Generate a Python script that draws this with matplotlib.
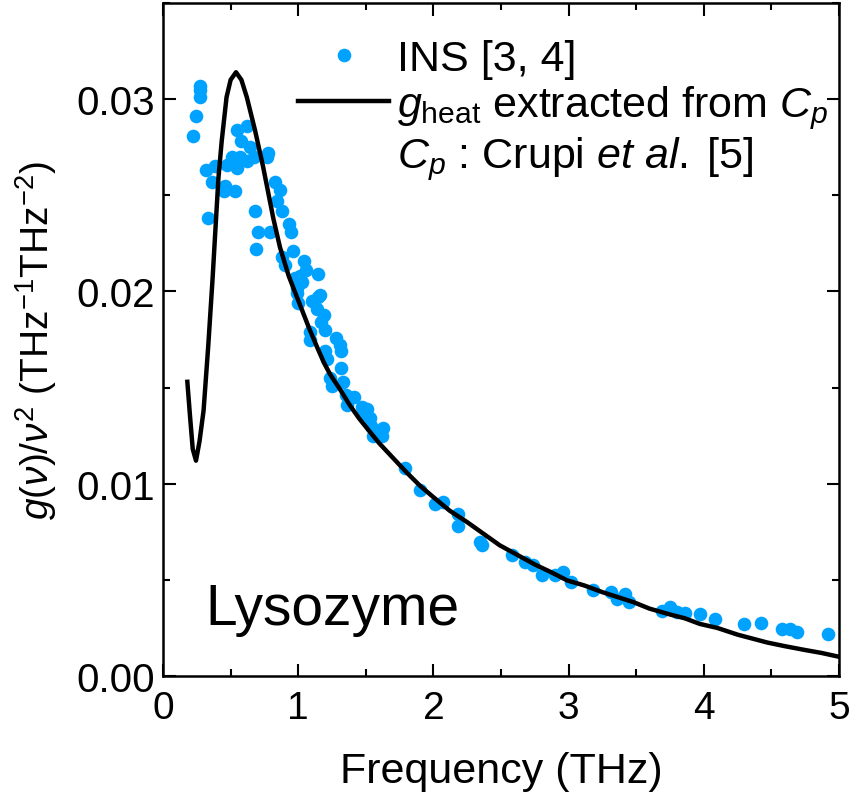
import matplotlib
matplotlib.use("Agg")
import matplotlib.pyplot as plt
from matplotlib.lines import Line2D
from matplotlib.ticker import MultipleLocator

plt.rcParams['font.family'] = ['Liberation Sans', 'DejaVu Sans']
plt.rcParams['mathtext.fontset'] = 'custom'
plt.rcParams['mathtext.rm'] = 'Liberation Sans'
plt.rcParams['mathtext.it'] = 'Liberation Sans:italic'
plt.rcParams['mathtext.bf'] = 'Liberation Sans:bold'

# INS data points (frequency THz, g/nu^2)
ins_freq = [0.274, 0.270, 0.274, 0.244, 0.224, 0.55, 0.62, 0.58, 0.643, 0.78,
            0.32, 0.385, 0.47, 0.51, 0.57, 0.62, 0.67, 0.77, 0.545, 0.36,
            0.46, 0.53, 0.45, 0.83, 0.865, 0.84, 0.88, 0.68, 0.335, 0.705,
            0.79, 0.93, 0.95, 0.69, 0.965, 0.88, 0.90, 1.04, 1.06, 1.01,
            1.15, 0.99, 1.16, 0.98, 1.03, 0.99, 1.00, 1.10, 1.15, 1.14,
            1.19, 1.17, 1.20, 1.09, 1.09, 1.28, 1.31, 1.32, 1.20, 1.21,
            1.32, 1.235, 1.25, 1.33, 1.35, 1.41, 1.36, 1.47, 1.51, 1.48,
            1.53, 1.54, 1.63, 1.555, 1.62, 1.79, 1.90, 2.01, 2.07, 2.18,
            2.18, 2.345, 2.357, 2.58, 2.68, 2.74, 2.80, 2.90, 2.96, 3.02,
            3.18, 3.31, 3.36, 3.42, 3.45, 3.69, 3.75, 3.80, 3.86, 3.97,
            4.08, 4.30, 4.42, 4.58, 4.64, 4.69, 4.92]
ins_g = [0.0307, 0.0305, 0.0301, 0.0291, 0.0281, 0.0284, 0.0286, 0.0278, 0.0275, 0.0272,
         0.0263, 0.0265, 0.0266, 0.0270, 0.0270, 0.0268, 0.0270, 0.0270, 0.0264, 0.0257,
         0.0255, 0.0252, 0.0252, 0.0257, 0.0253, 0.0247, 0.0242, 0.0242, 0.0238, 0.0231,
         0.0231, 0.0235, 0.0231, 0.0222, 0.0221, 0.0218, 0.0214, 0.0216, 0.0211, 0.0208,
         0.0209, 0.0202, 0.0198, 0.0207, 0.0205, 0.0199, 0.0194, 0.0195, 0.0197, 0.0191,
         0.0188, 0.0184, 0.0180, 0.0179, 0.0175, 0.0176, 0.0172, 0.0169, 0.0169, 0.0165,
         0.0160, 0.0155, 0.0151, 0.0153, 0.0146, 0.0145, 0.0141, 0.0140, 0.0139, 0.0136,
         0.0134, 0.0130, 0.0129, 0.0125, 0.0125, 0.0108, 0.00967, 0.00892, 0.00905, 0.0084,
         0.0078, 0.00698, 0.0068, 0.00628, 0.00593, 0.00575, 0.00523, 0.00523, 0.0054, 0.00489,
         0.00445, 0.00436, 0.00402, 0.00428, 0.00384, 0.0034, 0.00358, 0.00335, 0.00329, 0.00323,
         0.00294, 0.00271, 0.00274, 0.00247, 0.00247, 0.0023, 0.00219]

# g_heat curve extracted from Cp
heat_freq = [0.18, 0.20, 0.22, 0.244, 0.27, 0.30, 0.335, 0.367, 0.39, 0.41,
             0.434, 0.47, 0.50, 0.54, 0.58, 0.62, 0.68, 0.74, 0.816, 0.865,
             0.93, 0.98, 1.03, 1.08, 1.14, 1.19, 1.235, 1.31, 1.38, 1.45,
             1.53, 1.60, 1.68, 1.80, 1.90, 2.00, 2.12, 2.25, 2.37, 2.49,
             2.62, 2.75, 2.87, 2.99, 3.12, 3.25, 3.48, 3.60, 3.75, 3.86,
             3.97, 4.10, 4.25, 4.47, 4.60, 4.75, 4.87, 5.00]
heat_g = [0.0153, 0.0135, 0.0118, 0.0112, 0.0122, 0.0138, 0.0172, 0.0207, 0.0235, 0.0259,
          0.0278, 0.0301, 0.0310, 0.0314, 0.0310, 0.0301, 0.0284, 0.0265, 0.0238, 0.0223,
          0.0208, 0.0199, 0.0190, 0.0181, 0.0171, 0.0163, 0.0157, 0.0149, 0.0141, 0.0134,
          0.0127, 0.0121, 0.0115, 0.0106, 0.0099, 0.0093, 0.0086, 0.0080, 0.0074, 0.0068,
          0.0063, 0.0058, 0.0054, 0.00497, 0.0047, 0.00436, 0.00384, 0.0035, 0.0032, 0.0030,
          0.00271, 0.0025, 0.00215, 0.00174, 0.00155, 0.00135, 0.0012, 0.0010]

xticks = [0, 1, 2, 3, 4, 5]
yticks = [0.00, 0.01, 0.02, 0.03]
ytick_labels = ['0.00', '0.01', '0.02', '0.03']

fig = plt.figure(figsize=(8.51, 8.04), dpi=100)
ax = fig.add_axes([163/851, 1 - 677/804, (839 - 163)/851, (677 - 4)/804])

ax.plot(ins_freq, ins_g, 'o', color='#00A2FF', ms=9.8, mec='none',
        label='INS [3, 4]', zorder=2)
ax.plot(heat_freq, heat_g, '-', color='black', lw=3.2, solid_joinstyle='round',
        label=r'$g_{\mathrm{heat}}$ extracted from $C_p$', zorder=3)

ax.set_xlim(0, 5)
ax.set_ylim(0, 0.035)
ax.set_xticks(xticks)
ax.set_yticks(yticks)
ax.set_yticklabels(ytick_labels)
ax.xaxis.set_minor_locator(MultipleLocator(0.5))
ax.yaxis.set_minor_locator(MultipleLocator(0.005))
ax.tick_params(which='both', direction='in', top=True, right=True, width=1.5)
ax.tick_params(which='major', length=9)
ax.tick_params(which='minor', length=5)
ax.tick_params(axis='y', labelsize=29, pad=6)
ax.tick_params(axis='x', labelsize=28, pad=10)
for s in ax.spines.values():
    s.set_linewidth(1.8)

ax.set_xlabel('Frequency (THz)', fontsize=31, labelpad=18)
ax.set_ylabel(r'$g(\nu)/\nu^2$ (THz$^{-1}$THz$^{-2}$)', fontsize=28, labelpad=12)

ax.text(0.31, 0.0027, 'Lysozyme', fontsize=41, va='baseline', ha='left')

h1, l1 = ax.get_legend_handles_labels()
empty = Line2D([], [], linestyle='none', marker=None)
leg = ax.legend(h1 + [empty], l1 + [r'$C_p$ : Crupi $et\ al.\;$[5]'],
                loc='upper right', bbox_to_anchor=(1.0, 0.963), frameon=False,
                fontsize=31, handlelength=2.1, handletextpad=0.19,
                labelspacing=0.1, borderaxespad=0.0, borderpad=0.25)

fig.savefig('out.png', dpi=100)
